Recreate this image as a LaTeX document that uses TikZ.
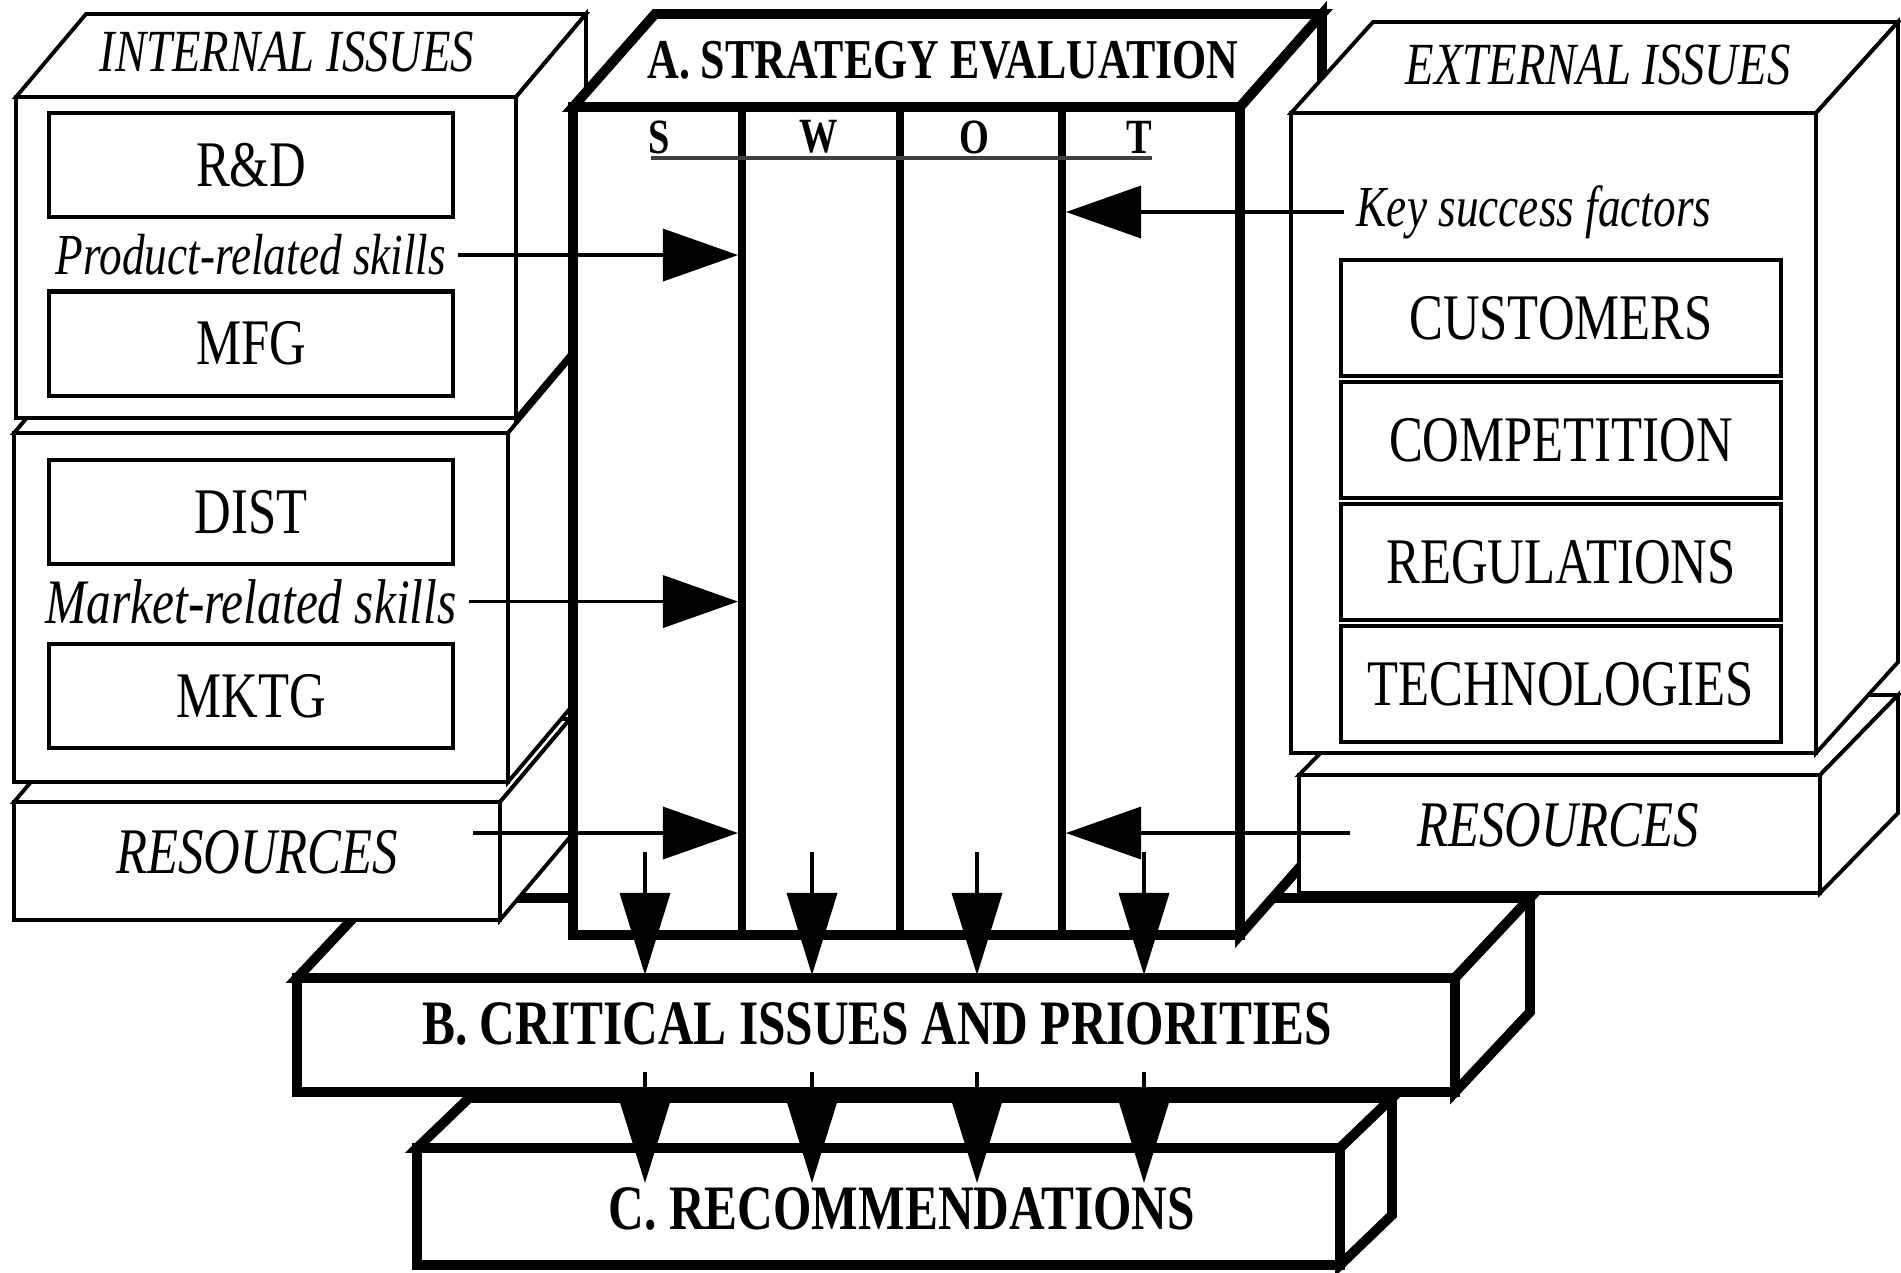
\documentclass[tikz,border=0pt]{standalone}
\usepackage{fontspec}
\newfontfamily\diagfont{Liberation Serif}[FakeStretch=0.78]
\usetikzlibrary{arrows.meta}
\begin{document}
\begin{tikzpicture}[x=0.01cm,y=-0.01cm,
		sideface/.style={draw,fill=white,line width=1.1pt},
		heavyface/.style={draw,fill=white,line width=2.8pt},
		itembox/.style={draw,line width=1.2pt,minimum width=4.03cm,minimum height=1.04cm,font=\diagfont\fontsize{18.5}{20}\selectfont},
		factorbox/.style={draw,line width=1.2pt,minimum width=4.40cm,minimum height=1.16cm,font=\diagfont\fontsize{18.5}{20}\selectfont},
		skillnote/.style={font=\diagfont\itshape\fontsize{16.5}{18}\selectfont},
		headnote/.style={font=\diagfont\itshape\fontsize{17}{19}\selectfont},
		resnote/.style={font=\diagfont\itshape\fontsize{18.5}{20}\selectfont},
		titletext/.style={font=\diagfont\bfseries\fontsize{18}{20}\selectfont},
		swotletter/.style={font=\diagfont\bfseries\fontsize{14}{16}\selectfont},
		flow/.style={line width=1pt,-{Triangle[length=7.5mm,width=5.2mm]}},
		drop/.style={line width=1pt,-{Triangle[length=8.2mm,width=5mm]}}]
		\useasboundingbox (0,0) rectangle (1901,1272);
		% C
		\draw[heavyface] (417,1148) -- (469,1098) -- (1392,1098) -- (1340,1148) -- cycle;
		\draw[heavyface] (1340,1148) -- (1392,1098) -- (1392,1215) -- (1340,1265) -- cycle;
		\draw[heavyface] (417,1148) rectangle (1340,1265);
		\node[titletext](recom) at (902,1209){C. RECOMMENDATIONS};
		% B
		\draw[heavyface] (297,978) -- (372,898) -- (1530,898) -- (1455,978) -- cycle;
		\draw[heavyface] (1455,978) -- (1530,898) -- (1530,1012) -- (1455,1092) -- cycle;
		\draw[heavyface] (297,978) rectangle (1455,1092);
		\node[titletext](crit) at (877,1024){B. CRITICAL ISSUES AND PRIORITIES};
		% internal issues
		\draw[sideface] (14,802) -- (84,719) -- (570,719) -- (500,802) -- cycle;
		\draw[sideface] (500,802) -- (570,719) -- (570,837) -- (500,920) -- cycle;
		\draw[sideface] (14,802) rectangle (500,920);
		\node[resnote](resL) at (257,852){RESOURCES};
		\draw[sideface] (14,433) -- (84,350) -- (578,350) -- (508,433) -- cycle;
		\draw[sideface] (508,433) -- (578,350) -- (578,699) -- (508,782) -- cycle;
		\draw[sideface] (14,433) rectangle (508,782);
		\node[itembox](dist) at (251,512){DIST};
		\node[skillnote,font=\diagfont\itshape\fontsize{18}{20}\selectfont,below of=dist,node distance=0.895cm](market){Market-related skills};
		\node[itembox,below of=market,node distance=0.945cm](mktg){MKTG};
		\draw[sideface] (16,97) -- (86,14) -- (586,14) -- (516,97) -- cycle;
		\draw[sideface] (516,97) -- (586,14) -- (586,335) -- (516,418) -- cycle;
		\draw[sideface] (16,97) rectangle (516,418);
		\node[headnote](intl) at (287,52){INTERNAL ISSUES};
		\node[itembox](rd) at (251,165){R\&D};
		\node[skillnote,below of=rd,node distance=0.9cm](prod){Product-related skills};
		\node[itembox,below of=prod,node distance=0.885cm](mfg){MFG};
		% A
		\draw[heavyface] (573,107) -- (655,14) -- (1322,14) -- (1240,107) -- cycle;
		\draw[heavyface] (1240,107) -- (1322,14) -- (1322,842) -- (1240,935) -- cycle;
		\draw[heavyface] (573,107) rectangle (1240,935);
		\foreach \x in {742,900,1062}
		\draw[line width=2.5pt] (\x,107) -- (\x,935);
		\node[font=\diagfont\bfseries\fontsize{16}{18}\selectfont](strat) at (943,60){A. STRATEGY EVALUATION};
		\node[swotletter](s) at (659,137){S};
		\node[swotletter](w) at (819,137){W};
		\node[swotletter](o) at (974,137){O};
		\node[swotletter](t) at (1139,137){T};
		\draw[line width=1pt,black!75] (651,158) -- (1152,158);
		% external issues
		\draw[sideface] (1299,775) -- (1377,695) -- (1898,695) -- (1820,775) -- cycle;
		\draw[sideface] (1820,775) -- (1898,695) -- (1898,813) -- (1820,893) -- cycle;
		\draw[sideface] (1299,775) rectangle (1820,893);
		\node[resnote](resR) at (1558,825){RESOURCES};
		\draw[sideface] (1291,113) -- (1373,22) -- (1898,22) -- (1816,113) -- cycle;
		\draw[sideface] (1816,113) -- (1898,22) -- (1898,662) -- (1816,753) -- cycle;
		\draw[sideface] (1291,113) rectangle (1816,753);
		\node[headnote](extl) at (1598,65){EXTERNAL ISSUES};
		\node[skillnote](ksf) at (1534,212){Key success factors};
		\node[factorbox](cust) at (1561,318){CUSTOMERS};
		\node[factorbox,below of=cust,node distance=1.22cm](comp){COMPETITION};
		\node[factorbox,below of=comp,node distance=1.22cm](regs){REGULATIONS};
		\node[factorbox,below of=regs,node distance=1.22cm](tech){TECHNOLOGIES};
		% arrows
		\coordinate (sEdge) at (738,0);
		\coordinate (tEdge) at (1066,0);
		\coordinate (resLin) at (473,833);
		\coordinate (resRin) at (1350,833);
		\coordinate (bEdge) at (0,975);
		\coordinate (cEdge) at (0,1183);
		\draw[flow] (prod.east) -- (prod.east -| sEdge);
		\draw[flow] (market.east) -- (market.east -| sEdge);
		\draw[flow] (resLin) -- (resLin -| sEdge);
		\draw[flow] (ksf.west) -- (ksf.west -| tEdge);
		\draw[flow] (resRin) -- (resRin -| tEdge);
		\foreach \x [count=\i] in {645,812,977,1144}{
			\coordinate (fromA\i) at (\x,852);
			\coordinate (fromB\i) at (\x,1072);
			\draw[drop] (fromA\i) -- (fromA\i |- bEdge);
			\draw[drop] (fromB\i) -- (fromB\i |- cEdge);
		}
		\end{tikzpicture}
\end{document}
